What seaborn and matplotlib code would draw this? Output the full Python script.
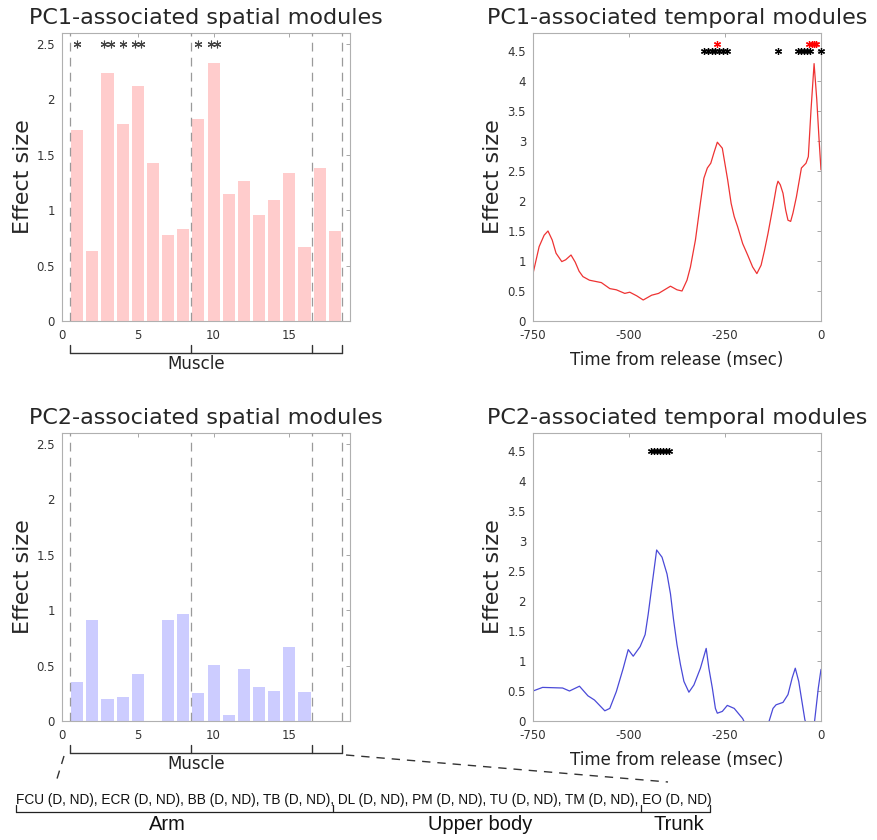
import numpy as np
import pandas as pd
import matplotlib
matplotlib.use("Agg")
import matplotlib.pyplot as plt
from matplotlib.lines import Line2D
import seaborn as sns

# ---------------- data ----------------
muscle_idx = list(range(1, 19))
pc1_spatial = [1.72, 0.635, 2.24, 1.78, 2.12, 1.43, 0.774, 0.828, 1.826, 2.33,
               1.149, 1.267, 0.955, 1.094, 1.336, 0.671, 1.378, 0.81]
pc2_spatial = [0.35, 0.915, 0.20, 0.22, 0.423, 0.0, 0.909, 0.966, 0.257, 0.507,
               0.051, 0.468, 0.305, 0.275, 0.664, 0.263, 0.0, 0.0]
pc1_star_x = [1, 2.8, 3.2, 4, 4.8, 5.2, 9, 9.8, 10.2]
group_bounds = [0.5, 8.5, 16.5, 18.5]

t_pc1 = [-750, -734, -721, -711, -700, -690, -675, -665, -651, -640, -630, -620,
         -603, -572, -550, -533, -511, -498, -480, -463, -441, -423, -392, -375,
         -362, -349, -340, -327, -314, -305, -296, -287, -279, -270, -257, -243,
         -234, -226, -217, -204, -191, -178, -167, -156, -147, -138, -125, -116,
         -112, -106, -99, -92, -86, -79, -73, -64, -51, -39, -33, -26, -18, -11,
         -5, 0]
v_pc1 = [0.79, 1.24, 1.43, 1.50, 1.35, 1.13, 0.99, 1.02, 1.10, 0.98, 0.83, 0.74,
         0.68, 0.64, 0.54, 0.52, 0.46, 0.48, 0.42, 0.35, 0.43, 0.46, 0.58, 0.52,
         0.50, 0.68, 0.90, 1.35, 1.97, 2.38, 2.55, 2.63, 2.80, 2.98, 2.88, 2.35,
         1.96, 1.74, 1.57, 1.29, 1.10, 0.90, 0.79, 0.93, 1.18, 1.46, 1.91, 2.24,
         2.33, 2.27, 2.13, 1.85, 1.68, 1.66, 1.80, 2.07, 2.55, 2.63, 2.74, 3.52,
         4.29, 3.69, 3.02, 2.52]
sig_black_pc1 = [-305, -295, -285, -275, -265, -255, -245, -113,
                 -60, -52, -44, -36, -28, 0]
sig_red_pc1 = [-272, -30, -24, -18, -12]

t_pc2 = [-750, -725, -673, -655, -629, -607, -590, -563, -550, -533, -515, -502,
         -489, -471, -458, -450, -441, -428, -414, -401, -392, -384, -375, -366,
         -357, -344, -331, -314, -299, -292, -283, -275, -270, -257, -244, -226,
         -204, -190, -170, -150, -136, -125, -117, -99, -86, -75, -67, -58, -42,
         -30, -17, -7, 0]
v_pc2 = [0.50, 0.56, 0.55, 0.50, 0.58, 0.42, 0.35, 0.17, 0.21, 0.49, 0.88, 1.19,
         1.08, 1.24, 1.44, 1.78, 2.22, 2.85, 2.73, 2.45, 2.12, 1.69, 1.27, 0.94,
         0.66, 0.48, 0.60, 0.88, 1.21, 0.88, 0.55, 0.21, 0.13, 0.16, 0.26, 0.21,
         0.04, -0.15, -0.30, -0.20, -0.02, 0.21, 0.27, 0.31, 0.44, 0.72, 0.88,
         0.66, 0.02, -0.20, -0.02, 0.55, 0.86]
sig_black_pc2 = [-443, -435, -427, -419, -411, -403, -395]

muscle_names = ["FCU", "ECR", "BB", "TB", "DL", "PM", "TU", "TM", "EO"]
group_names = ["Arm", "Upper body", "Trunk"]

titles = ["PC1-associated spatial modules", "PC1-associated temporal modules",
          "PC2-associated spatial modules", "PC2-associated temporal modules"]

# ---------------- style ----------------
sns.set_style("white")
plt.rcParams["font.family"] = ["DejaVu Sans"]
plt.rcParams["axes.unicode_minus"] = False

W, H = 877, 840
fig = plt.figure(figsize=(W / 100, H / 100), dpi=100)

def px_rect(x0, y0, x1, y1):
    return [x0 / W, 1 - y1 / H, (x1 - x0) / W, (y1 - y0) / H]

ax_tl = fig.add_axes(px_rect(62, 33, 350, 321))
ax_tr = fig.add_axes(px_rect(533, 33, 821, 321))
ax_bl = fig.add_axes(px_rect(62, 433, 350, 721))
ax_br = fig.add_axes(px_rect(533, 433, 821, 721))

SPINE = "#b0b0b0"
TICKC = "#333333"

def style_axes(ax):
    for s in ax.spines.values():
        s.set_color(SPINE)
        s.set_linewidth(0.8)
        s.set_visible(True)
    ax.tick_params(direction="in", length=3, width=0.6, color="#999999",
                   labelsize=8.5, labelcolor=TICKC, top=True, right=True,
                   labeltop=False, labelright=False, pad=5)
    ax.tick_params(axis="x", pad=6)

def fmt(v):
    return ("%g" % v)

# spatial panels
for ax, vals, col, title in [(ax_tl, pc1_spatial, "#ffcccc", titles[0]),
                             (ax_bl, pc2_spatial, "#ccccff", titles[2])]:
    df = pd.DataFrame({"muscle": muscle_idx, "effect": vals})
    sns.barplot(data=df, x="muscle", y="effect", native_scale=True, color=col,
                saturation=1, width=0.8, linewidth=0, ax=ax, errorbar=None)
    for xb in group_bounds:
        ax.axvline(xb, color="#9a9a9a", lw=0.9, ls=(0, (7, 5)), zorder=3)
    ax.set_xlim(0, 19)
    ax.set_ylim(0, 2.6)
    ax.set_xticks([0, 5, 10, 15])
    ax.set_xticklabels([fmt(v) for v in [0, 5, 10, 15]])
    yt = [0, 0.5, 1, 1.5, 2, 2.5]
    ax.set_yticks(yt)
    ax.set_yticklabels([fmt(v) for v in yt])
    ax.set_xlabel("")
    ax.set_ylabel("Effect size", fontsize=16)
    ax.yaxis.set_label_coords(-0.10, 0.5)
    ax.set_title(title, fontsize=16, pad=6.5)
    style_axes(ax)
    # bracket below the axis
    tr = ax.get_xaxis_transform()
    ax.plot([group_bounds[0], group_bounds[-1]], [-0.111, -0.111], color="#333333",
            lw=1.0, transform=tr, clip_on=False)
    for xb in group_bounds:
        ax.plot([xb, xb], [-0.111, -0.083], color="#333333", lw=1.0,
                transform=tr, clip_on=False)
    ax.text(0.465, -0.148, "Muscle", transform=ax.transAxes, ha="center",
            va="center", fontsize=12, color="#222222")

ax_tl.plot(pc1_star_x, [2.5] * len(pc1_star_x), ls="none", marker=(6, 2, 0),
           ms=5.5, mec="#444444", mew=0.8, zorder=4)

# temporal panels
for ax, t, v, col, title in [(ax_tr, t_pc1, v_pc1, "#ee3333", titles[1]),
                             (ax_br, t_pc2, v_pc2, "#4a4ad8", titles[3])]:
    df = pd.DataFrame({"t": t, "v": v})
    sns.lineplot(data=df, x="t", y="v", color=col, lw=0.9, ax=ax)
    ax.set_xlim(-750, 0)
    ax.set_ylim(0, 4.8)
    ax.set_xticks([-750, -500, -250, 0])
    ax.set_xticklabels([fmt(x) for x in [-750, -500, -250, 0]])
    yt = [0, 0.5, 1, 1.5, 2, 2.5, 3, 3.5, 4, 4.5]
    ax.set_yticks(yt)
    ax.set_yticklabels([fmt(x) for x in yt])
    ax.set_xlabel("Time from release (msec)", fontsize=12, color="#222222")
    ax.xaxis.set_label_coords(0.5, -0.105)
    ax.set_ylabel("Effect size", fontsize=16)
    ax.yaxis.set_label_coords(-0.104, 0.5)
    ax.set_title(title, fontsize=16, pad=6.5)
    style_axes(ax)

ax_tr.plot(sig_black_pc1, [4.5] * len(sig_black_pc1), ls="none", marker=(6, 2, 0),
           ms=5, mec="black", mew=0.9, clip_on=False, zorder=4)
ax_tr.plot(sig_red_pc1, [4.61] * len(sig_red_pc1), ls="none", marker=(6, 2, 0),
           ms=5, mec="red", mew=0.9, clip_on=False, zorder=5)
ax_br.plot(sig_black_pc2, [4.5] * len(sig_black_pc2), ls="none", marker=(6, 2, 0),
           ms=5, mec="black", mew=0.9, clip_on=False, zorder=4)

# ---------------- bottom annotation ----------------
def fx(x):
    return x / W

def fy(y):
    return 1 - y / H

def fig_line(xs, ys, **kw):
    fig.add_artist(Line2D([fx(x) for x in xs], [fy(y) for y in ys],
                          transform=fig.transFigure, **kw))

label_text = ", ".join(m + " (D, ND)" for m in muscle_names)
fig.text(fx(16), fy(800), label_text, ha="left", va="center", fontsize=9.8,
         family=["Liberation Sans", "DejaVu Sans"], color="#111111")

br_y = 812
fig_line([16, 710], [br_y, br_y], color="#222222", lw=0.9)
for xb in [16, 333, 641, 710]:
    fig_line([xb, xb], [br_y, br_y - 7], color="#222222", lw=0.9)
for name, cx in zip(group_names, [167, 480, 679]):
    fig.text(fx(cx), fy(825), name, ha="center", va="center", fontsize=14.5,
             family=["Liberation Sans", "DejaVu Sans"], color="#111111")

fig_line([64, 56], [756, 782], color="#333333", lw=1.0, ls=(0, (6, 5)))
fig_line([346, 668], [755, 782], color="#333333", lw=1.0, ls=(0, (6, 5)))

fig.savefig("out.png", dpi=100)
